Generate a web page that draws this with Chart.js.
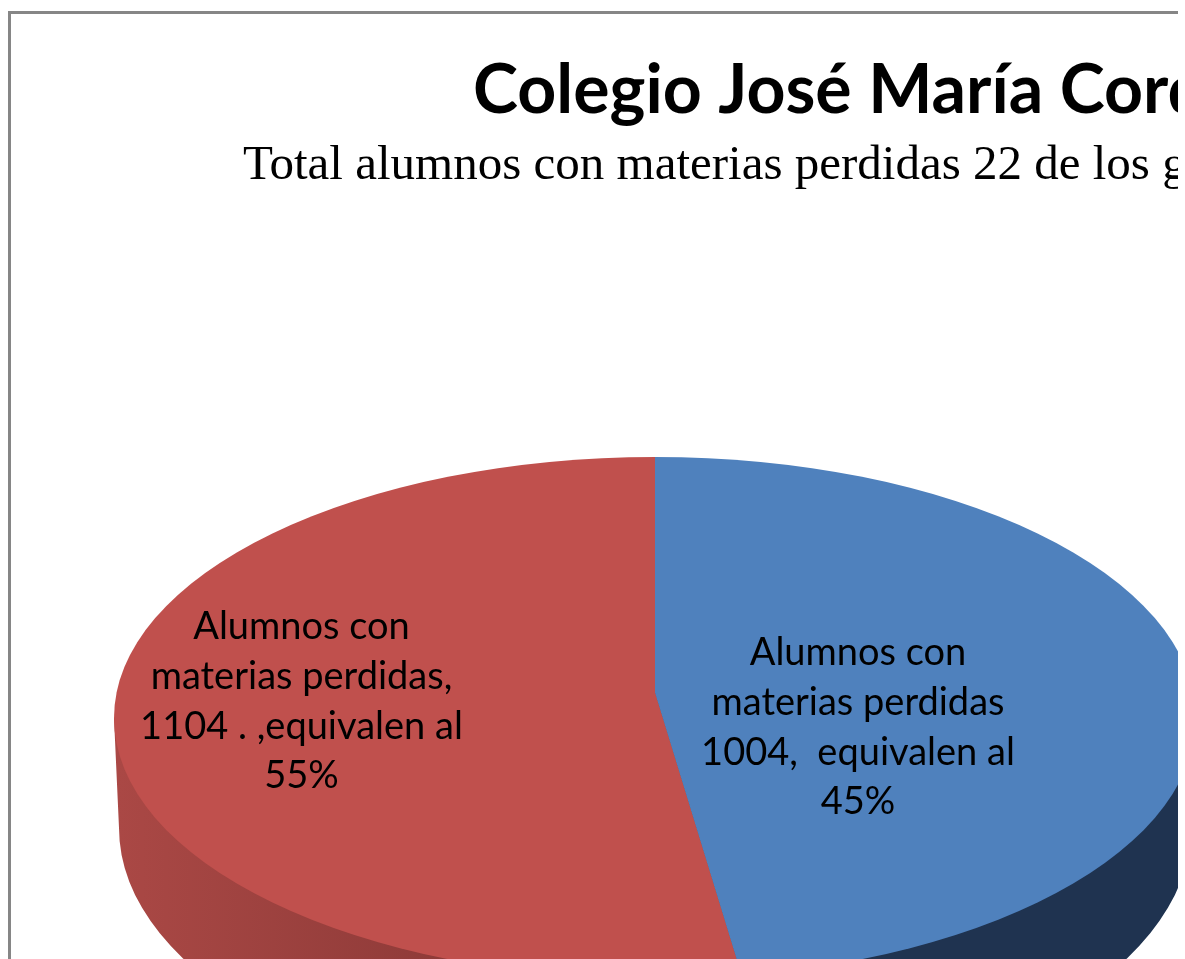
<!DOCTYPE html>
<html><head><meta charset="utf-8">
<script src="https://cdn.jsdelivr.net/npm/chart.js@4"></script>
<style>
html,body{margin:0;padding:0;background:#fff;overflow:hidden}
#clip{position:absolute;left:0;top:0;width:1178px;height:959px;overflow:hidden;background:#fff}
#frame{position:absolute;left:8px;top:11px;width:1400px;height:1400px;border:3px solid #868686;box-sizing:border-box}
canvas{position:absolute;left:0;top:0}
</style></head><body>
<div id="clip"><div id="frame"></div><canvas id="c" width="1185" height="959"></canvas></div>
<script>
const categories = ['Alumnos con materias perdidas 1004', 'Alumnos con materias perdidas 1104'];
const values = [1004, 1104];
const faceColors = ['#4f81bd', '#c0504d'];
const titleText = 'Colegio José María Cordoba';
const subtitleText = 'Total alumnos con materias perdidas 22 de los grados';
const sliceLabels = [
  ['Alumnos con', 'materias perdidas', '1004,  equivalen al', '45%'],
  ['Alumnos con', 'materias perdidas,', '1104 . ,equivalen al', '55%']
];

const TILT = 0.49;
const TOP = {dy: 25, a: 541, b: 261};
const BASE = {dy: 135, a: 536, b: 275};
const labelAnchor = [{x: 858, y: 653}, {x: 301.5, y: 627}];

function ellipse(ctx, cx, cy, e){ ctx.ellipse(cx, cy + e.dy, e.a, e.b, 0, 0, Math.PI * 2); }

const pie3d = {
  id: 'pie3d',
  beforeDatasetDraw(chart, args) {
    const ctx = chart.ctx;
    const arcs = args.meta.data;
    const cx = arcs[0].x, cy = arcs[0].y;
    const redWall = ctx.createLinearGradient(118, 0, 560, 0);
    redWall.addColorStop(0, '#aa4845');
    redWall.addColorStop(1, '#853634');
    const wall = ['#1f3350', redWall];
    const paint = (fills) => {
      ctx.translate(cx, cy); ctx.scale(1, TILT); ctx.translate(-cx, -cy);
      arcs.forEach((arc, i) => {
        const o = arc.options;
        arc.options = {...o, backgroundColor: fills[i], borderWidth: 0};
        arc.draw(ctx);
        arc.options = o;
      });
    };
    // side wall: hull of the rim and the lower ellipse
    ctx.save();
    ctx.beginPath();
    ellipse(ctx, cx, cy, BASE);
    ctx.moveTo(cx - TOP.a, cy + TOP.dy);
    ctx.lineTo(cx + TOP.a, cy + TOP.dy);
    ctx.lineTo(cx + BASE.a, cy + BASE.dy);
    ctx.lineTo(cx - BASE.a, cy + BASE.dy);
    ctx.closePath();
    ctx.clip('nonzero');
    paint(wall);
    ctx.restore();
    // top face
    ctx.save();
    ctx.beginPath();
    ellipse(ctx, cx, cy, TOP);
    ctx.clip();
    paint(faceColors);
    ctx.restore();
    return false;
  },
  afterDatasetsDraw(chart) {
    const ctx = chart.ctx;
    ctx.save();
    ctx.fillStyle = '#000';
    ctx.textBaseline = 'alphabetic';
    ctx.textAlign = 'left';
    ctx.font = 'bold 68px Lato';
    ctx.fillText(titleText, 473, 113);
    ctx.font = '49px "Liberation Serif"';
    ctx.fillText(subtitleText, 243, 179);
    ctx.textAlign = 'center';
    ctx.textBaseline = 'middle';
    ctx.font = '38px Lato';
    sliceLabels.forEach((lines, i) => {
      lines.forEach((t, j) => ctx.fillText(t, labelAnchor[i].x, labelAnchor[i].y + j * 49.7));
    });
    ctx.restore();
  }
};

new Chart(document.getElementById('c'), {
  type: 'pie',
  data: { labels: categories, datasets: [{ data: values, backgroundColor: faceColors, borderWidth: 0 }] },
  options: {
    responsive: false,
    animation: false,
    radius: 900,
    layout: { padding: { left: 125, top: 427, right: 0, bottom: 0 } },
    plugins: { legend: { display: false }, tooltip: { enabled: false } }
  },
  plugins: [pie3d]
});
</script>
</body></html>
